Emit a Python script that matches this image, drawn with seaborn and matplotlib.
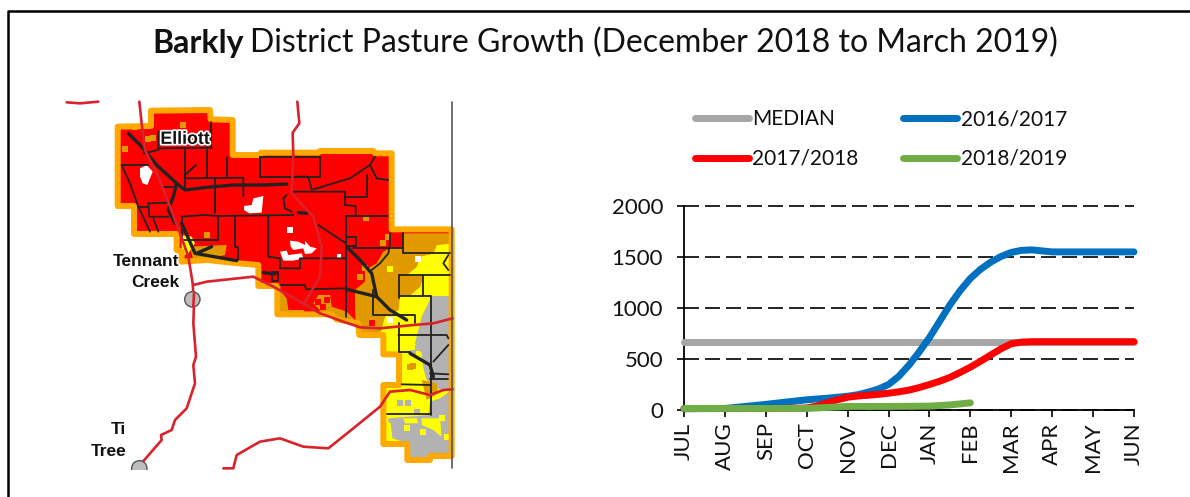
"""
Barkly District pasture growth: map panel on the left, growth curves on the right.
Map coordinates are read off the picture (1 unit = 1/3 pixel).
"""

import pandas as pd
import matplotlib
matplotlib.use("Agg")
import matplotlib.pyplot as plt
import matplotlib.patheffects as pe
from matplotlib.patches import Polygon, Circle
import seaborn as sns

# ── CHART DATA ────────────────────────────────────────────────────────────────

MONTHS = ['JUL', 'AUG', 'SEP', 'OCT', 'NOV', 'DEC', 'JAN', 'FEB', 'MAR', 'APR', 'MAY', 'JUN']

POS_FULL = [0, 1, 2, 2.5, 3, 3.25, 3.5, 3.75, 4, 4.25, 4.5, 4.75, 5, 5.25, 5.5, 5.75, 6, 6.25, 6.5, 6.75,
            7, 7.25, 7.5, 7.75, 8, 8.25, 8.5, 8.75, 9, 10, 11]
POS_GREEN = [0, 1, 2, 3, 3.5, 4, 5, 6, 6.5, 7]

MEDIAN = [670] * len(POS_FULL)
S_1617 = [12, 15, 55, 78, 100, 108, 115, 125, 135, 150, 175, 205, 250, 330, 440, 570, 710, 870, 1030, 1170,
          1290, 1380, 1450, 1505, 1545, 1565, 1570, 1560, 1550, 1550, 1550]
S_1718 = [15, 15, 15, 16, 20, 40, 70, 100, 125, 137, 145, 153, 165, 178, 195, 220, 250, 282, 320, 368,
          420, 478, 540, 600, 650, 665, 670, 670, 670, 670, 670]
S_1819 = [15, 15, 15, 15, 25, 35, 35, 38, 50, 70]

SEASON_COLORS = {'MEDIAN': '#A6A6A6', '2016/2017': '#0070C0', '2017/2018': '#FF0000', '2018/2019': '#70AD47'}

# ── MAP DATA ──────────────────────────────────────────────────────────────────

BOUNDARY = [(173, 110), (273, 108), (273, 62), (450, 60), (452, 88), (518, 90), (518, 195), (598, 195),
            (603, 188), (775, 188), (780, 183), (940, 183), (945, 190), (995, 190), (995, 418), (1175, 418),
            (1175, 1098), (1110, 1098), (1110, 1110), (1042, 1110), (1042, 1062), (970, 1062), (970, 885),
            (1017, 885), (1017, 793), (970, 793), (970, 735), (898, 735), (895, 700), (830, 688), (815, 673),
            (652, 673), (652, 588), (595, 588), (595, 525), (535, 520), (440, 510), (365, 515), (365, 485),
            (350, 480), (350, 432), (222, 432), (222, 348), (173, 348)]

BROWN_ZONE = [(1030, 430), (1175, 430), (1175, 460), (1130, 465), (1120, 490), (1080, 500), (1070, 530),
              (1040, 555), (1090, 560), (1080, 590), (1045, 620), (1020, 615), (1015, 660), (975, 680),
              (970, 735), (890, 735), (885, 660), (885, 600), (915, 575), (915, 540), (950, 520), (970, 485),
              (990, 475), (1030, 470)]
BROWN_TENNANT = [(390, 470), (500, 465), (495, 495), (450, 505), (400, 510)]
BROWN_SOUTH_A = [(655, 595), (680, 625), (685, 660), (730, 660), (740, 675), (652, 675)]
BROWN_SOUTH_B = [(760, 640), (775, 615), (810, 615), (815, 650), (860, 665), (885, 690), (790, 672)]
BROWN_LOWER = [(1085, 870), (1130, 880), (1135, 910), (1100, 930)]
YELLOW_ZONE = [(1175, 460), (1130, 465), (1120, 490), (1080, 500), (1070, 530), (1040, 555), (1090, 560),
               (1080, 590), (1045, 620), (1020, 615), (1015, 660), (975, 680), (960, 735), (960, 800),
               (1020, 800), (1020, 890), (960, 890), (960, 1075), (1175, 1075)]
YELLOW_TENNANT = [(365, 435), (395, 440), (405, 460), (385, 490), (365, 500)]
GRAY_UPPER = [(1175, 618), (1115, 618), (1100, 650), (1085, 680), (1075, 720), (1065, 760), (1085, 790),
              (1090, 835), (1100, 870), (1125, 890), (1150, 905), (1175, 900)]
GRAY_LOWER = [(1175, 900), (1140, 925), (1110, 935), (1105, 975), (985, 985), (985, 1040), (1040, 1060),
              (1040, 1110), (1175, 1110)]
YELLOW_BLOB_A = [(1085, 985), (1140, 985), (1145, 1040), (1120, 1020), (1085, 1005)]
YELLOW_BLOB_B = [(975, 990), (992, 1000), (998, 1050), (975, 1050)]
YELLOW_BLOB_C = [(1030, 985), (1070, 985), (1075, 1000), (1035, 1000)]

WHITE_PATCHES = [
    [(240, 235), (260, 225), (278, 245), (270, 265), (262, 285), (248, 280), (240, 260)],
    [(552, 348), (575, 345), (580, 325), (610, 318), (605, 368), (568, 370), (552, 360)],
    [(680, 410), (700, 410), (700, 430), (680, 430)],
    [(690, 452), (715, 455), (735, 465), (735, 452), (750, 470), (770, 475), (755, 490), (735, 492), (730, 475),
     (700, 480), (692, 470)],
    [(660, 485), (680, 482), (685, 495), (725, 490), (730, 505), (700, 512), (670, 512)],
    [(832, 492), (843, 492), (843, 503), (832, 503)],
]

BROWN_DOTS = [(368, 105), (265, 148), (195, 178), (918, 385), (440, 435), (1050, 830), (1060, 828),
              (225, 110), (280, 145), (985, 440), (970, 460), (915, 535), (900, 560)]
RED_DOTS = [(775, 635), (800, 630), (790, 650), (695, 640), (1005, 440), (1010, 425), (935, 700)]
YELLOW_DOTS = [(990, 537), (1125, 1000), (1090, 1025), (1040, 1015), (1160, 1040), (1145, 985), (1010, 965)]
WHITE_DOTS = [(1075, 507), (990, 690)]
GRAY_DOTS = [(1045, 938), (1075, 775), (1060, 790), (1020, 940), (1070, 965)]

PADDOCK_LINES = [
    [(185, 225), (210, 280), (235, 350), (270, 425)],
    [(185, 225), (265, 225)],
    [(250, 190), (295, 180), (295, 125)],
    [(375, 175), (375, 300)],
    [(440, 175), (440, 265)],
    [(453, 95), (453, 175)],
    [(295, 175), (455, 173)],
    [(375, 265), (550, 263), (550, 320)],
    [(465, 265), (465, 370)],
    [(502, 200), (502, 265)],
    [(375, 255), (408, 225)],
    [(305, 290), (340, 290)],
    [(265, 340), (330, 338)],
    [(265, 340), (268, 380), (325, 380)],
    [(235, 350), (265, 350)],
    [(280, 385), (295, 425)],
    [(365, 380), (430, 375), (475, 378), (700, 375)],
    [(365, 380), (365, 440)],
    [(475, 378), (475, 450), (368, 450)],
    [(525, 378), (525, 470), (535, 470), (535, 510)],
    [(600, 200), (780, 200), (780, 260), (600, 260), (600, 200)],
    [(700, 260), (745, 260), (755, 300)],
    [(760, 298), (870, 265), (930, 225), (945, 200)],
    [(930, 225), (950, 265), (985, 270)],
    [(700, 305), (855, 305), (855, 345), (887, 348), (887, 375)],
    [(920, 255), (920, 320), (855, 320)],
    [(857, 378), (985, 378)],
    [(625, 375), (625, 500), (660, 505), (660, 535), (720, 535), (720, 505), (855, 505)],
    [(857, 378), (857, 680)],
    [(775, 405), (855, 458)],
    [(858, 440), (887, 440), (887, 468), (858, 468), (858, 440)],
    [(660, 585), (735, 585), (738, 598), (855, 595)],
    [(635, 545), (655, 545), (655, 572), (635, 572), (635, 545)],
    [(680, 315), (670, 325), (675, 355), (695, 365)],
    [(880, 475), (1030, 475)],
    [(1030, 430), (1030, 490), (1170, 490)],
    [(990, 430), (990, 460), (985, 490), (960, 520), (935, 540)],
    [(1018, 555), (1018, 625)],
    [(1018, 555), (1170, 555)],
    [(1090, 555), (1090, 615)],
    [(1018, 618), (1112, 618), (1112, 975)],
    [(940, 600), (940, 675), (1065, 675), (1065, 700)],
    [(1018, 700), (1018, 785), (1050, 785)],
    [(1015, 735), (1160, 735), (1165, 745)],
    [(1110, 850), (1165, 853)],
    [(1110, 868), (1165, 868)],
    [(1025, 883), (1112, 885)],
    [(980, 972), (1112, 972)],
    [(1165, 765), (1120, 815)],
    [(1165, 495), (1150, 520), (1165, 540)],
]

TRACKS = [
    [(205, 130), (240, 165), (290, 225), (350, 280), (375, 300), (440, 292), (520, 285), (615, 285), (680, 282)],
    [(350, 280), (340, 320), (325, 360), (345, 400)],
    [(860, 470), (900, 510), (935, 550), (950, 620), (990, 660), (1040, 690)],
    [(860, 598), (950, 620)],
    [(1050, 790), (1110, 825), (1120, 860)],
    [(365, 400), (405, 490), (530, 512)],
    [(410, 490), (455, 470)],
    [(610, 548), (645, 552)],
    [(715, 368), (740, 370)],
]

ROADS = [
    [(238, 35), (245, 100), (255, 180), (295, 260), (330, 350), (360, 430), (385, 500), (398, 580), (402, 640),
     (400, 700), (408, 800), (400, 825), (405, 880), (380, 955), (345, 990), (335, 1020), (303, 1035), (305, 1050),
     (240, 1125)],
    [(712, 35), (718, 100), (698, 128), (700, 200), (695, 310), (760, 380), (785, 470), (780, 560), (730, 645)],
    [(400, 585), (440, 575), (580, 560), (640, 590), (730, 640), (780, 670), (850, 695), (900, 712), (960, 715),
     (1060, 705), (1120, 700), (1178, 685)],
    [(490, 1135), (520, 1135), (530, 1095), (600, 1055), (660, 1045), (730, 1070), (805, 1075), (880, 1015),
     (960, 950), (990, 905), (1050, 900), (1110, 915), (1150, 900), (1178, 898)],
    [(20, 37), (60, 40), (115, 35)],
]

TOWNS = [(397, 628), (238, 1135)]
PLACE_LABELS = [('Tennant', 358, 514), ('Creek', 358, 577), ('Ti', 198, 1020), ('Tree', 198, 1085)]

# ── FIGURE ────────────────────────────────────────────────────────────────────

sns.set_theme(style='white')
plt.rcParams['font.family'] = ['Lato', 'DejaVu Sans']

W, H = 1190, 497
fig = plt.figure(figsize=(W / 100, H / 100), dpi=100)

# frame + title
bg = fig.add_axes([0, 0, 1, 1])
bg.set_xlim(0, W)
bg.set_ylim(H, 0)
bg.axis('off')
bg.plot([8, 8, W], [H, 11, 11], color='black', lw=1.8)

t1 = bg.text(152, 43, 'Barkly', fontsize=23, fontweight='bold', color='#111111', va='center')
fig.canvas.draw()
bb = t1.get_window_extent()
bg.text(bb.x1 + 7, 43, 'District Pasture Growth (December 2018 to March 2019)', fontsize=23,
        color='#111111', va='center')

# ── MAP ───────────────────────────────────────────────────────────────────────

# axes stop at the bottom of the map frame so the Ti Tree circle gets cut off
mp = fig.add_axes([60 / W, 1 - 470 / H, 400 / W, 380 / H])
mp.set_xlim(0, 1200)
mp.set_ylim(1140, 0)
mp.axis('off')

BROWN = '#E09A00'
YELLOW = '#FFFF00'
GRAY = '#B2B2B2'

clip = Polygon(BOUNDARY, closed=True, transform=mp.transData)
mp.add_patch(Polygon(BOUNDARY, closed=True, fc='#FF0000', ec='none'))
for pts, col in [(BROWN_ZONE, BROWN), (BROWN_TENNANT, BROWN), (BROWN_SOUTH_A, BROWN), (BROWN_SOUTH_B, BROWN),
                 (YELLOW_ZONE, YELLOW), (YELLOW_TENNANT, YELLOW), (GRAY_UPPER, GRAY), (GRAY_LOWER, GRAY),
                 (BROWN_LOWER, BROWN), (YELLOW_BLOB_A, YELLOW), (YELLOW_BLOB_B, YELLOW), (YELLOW_BLOB_C, YELLOW)]:
    p = Polygon(pts, closed=True, fc=col, ec='none')
    mp.add_patch(p)
    p.set_clip_path(clip)
for pts in WHITE_PATCHES:
    mp.add_patch(Polygon(pts, closed=True, fc='white', ec='none'))

for pts, col in [(BROWN_DOTS, BROWN), (RED_DOTS, '#FF0000'), (YELLOW_DOTS, YELLOW), (WHITE_DOTS, 'white'),
                 (GRAY_DOTS, GRAY)]:
    mp.scatter([q[0] for q in pts], [q[1] for q in pts], marker='s', s=18, c=col, linewidths=0, zorder=2)

mp.add_patch(Polygon(BOUNDARY, closed=True, fc='none', ec='#FFA800', lw=4.3, joinstyle='round', zorder=3))

for line in PADDOCK_LINES:
    mp.plot([q[0] for q in line], [q[1] for q in line], color='#222222', lw=1.3, zorder=4)
for line in TRACKS:
    mp.plot([q[0] for q in line], [q[1] for q in line], color='#222222', lw=2.4, zorder=4)
for line in ROADS:
    mp.plot([q[0] for q in line], [q[1] for q in line], color='#D9222B', lw=1.9, zorder=5)

mp.plot([1175, 1175], [35, 1135], color='#555555', lw=1.2, zorder=5)

for x, y in TOWNS:
    mp.add_patch(Circle((x, y), 23, fc='#BDBDBD', ec='#555555', lw=1.0, zorder=6))
mp.plot([402, 400], [610, 650], color='#D9222B', lw=1.9, zorder=7)

for label, x, y in PLACE_LABELS:
    mp.text(x, y, label, family='Liberation Sans', fontweight='bold', fontsize=12.5, color='#111111',
            ha='right', va='center', zorder=8)
mp.text(375, 148, 'Elliott', family='Liberation Sans', fontweight='bold', fontsize=12.8, color='#111111',
        ha='center', va='center', zorder=8,
        path_effects=[pe.withStroke(linewidth=2.5, foreground='white')])

# ── CURVES ────────────────────────────────────────────────────────────────────

frames = [
    pd.DataFrame({'month': POS_FULL, 'value': MEDIAN, 'season': 'MEDIAN'}),
    pd.DataFrame({'month': POS_FULL, 'value': S_1617, 'season': '2016/2017'}),
    pd.DataFrame({'month': POS_FULL, 'value': S_1718, 'season': '2017/2018'}),
    pd.DataFrame({'month': POS_GREEN, 'value': S_1819, 'season': '2018/2019'}),
]
df = pd.concat(frames, ignore_index=True)

ax = fig.add_axes([684 / W, 1 - 410 / H, 450 / W, 204 / H])
sns.lineplot(data=df, x='month', y='value', hue='season', palette=SEASON_COLORS,
             hue_order=list(SEASON_COLORS), linewidth=5, errorbar=None, ax=ax,
             solid_capstyle='round', solid_joinstyle='round', clip_on=False, zorder=5)

ax.set_xlim(0, 11)
ax.set_ylim(0, 2000)
ax.set_xticks(range(12))
ax.set_xticklabels(MONTHS, rotation=90, fontsize=16, color='#111111')
ax.set_yticks([0, 500, 1000, 1500, 2000])
ax.tick_params(axis='y', labelsize=16, length=5, width=1.2, color='black', left=True, labelcolor='#111111', pad=10)
ax.tick_params(axis='x', length=5, width=1.2, color='black', bottom=True, pad=4)
ax.set_xlabel('')
ax.set_ylabel('')
ax.grid(True, axis='y', color='black', lw=1.2, linestyle=(0, (9, 3.6)), clip_on=False)
ax.grid(False, axis='x')
ax.set_axisbelow(True)
sns.despine(ax=ax)
for side in ['left', 'bottom']:
    ax.spines[side].set_color('black')
    ax.spines[side].set_linewidth(1.3)

handles, labels = ax.get_legend_handles_labels()
by_label = dict(zip(labels, handles))
order = ['MEDIAN', '2017/2018', '2016/2017', '2018/2019']
ax.legend([by_label[k] for k in order], order, ncol=2, frameon=False, fontsize=15,
          loc='upper left', bbox_to_anchor=(695 / W, 1 - 109 / H), bbox_transform=fig.transFigure,
          handlelength=2.6, handletextpad=0.15, columnspacing=2.15, labelspacing=0.95,
          labelcolor='#111111', borderpad=0, borderaxespad=0)

fig.savefig('out.png', dpi=100)
